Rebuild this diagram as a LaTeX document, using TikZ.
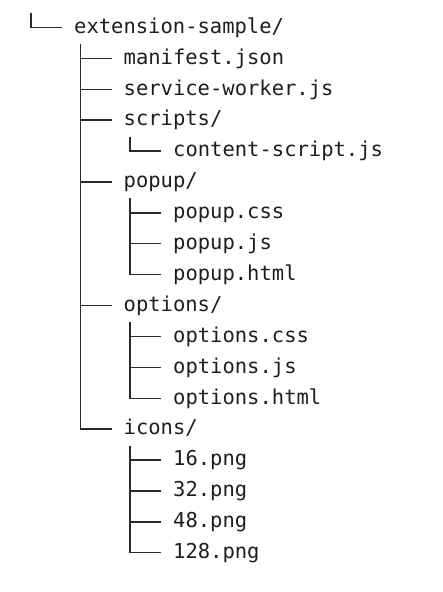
\documentclass[tikz,border=0pt]{standalone}
\usepackage{fontspec}
\newfontfamily\treefont{DejaVu Sans Mono}
\definecolor{ink}{HTML}{1E1E1E}
\definecolor{lineink}{HTML}{2A2A2A}
\begin{document}
\begin{tikzpicture}[x=1pt,y=1pt,
  entry/.style={anchor=west,inner sep=0pt,text height=15.5pt,text depth=4pt,
    text=ink,font=\treefont\fontsize{20.5}{24}\selectfont},
  branch/.style={draw=lineink,line width=1.4pt,line cap=butt}]
\fill[white] (0,0) rectangle (443,592);
\useasboundingbox (0,0) rectangle (443,592);
% level x positions: L0 text 74, L1 text 123.5, L2 text 173
\node[entry] (root) at (74,564.5) {extension-sample/};
\node[entry] (manifest) at (123.5,533.6) {manifest.json};
\node[entry] (sw) at (123.5,502.7) {service-worker.js};
\node[entry] (scripts) at (123.5,471.8) {scripts/};
\node[entry] (cs) at (173,440.9) {content-script.js};
\node[entry] (popup) at (123.5,410.0) {popup/};
\node[entry] (pcss) at (173,379.1) {popup.css};
\node[entry] (pjs) at (173,348.2) {popup.js};
\node[entry] (phtml) at (173,317.3) {popup.html};
\node[entry] (options) at (123.5,286.4) {options/};
\node[entry] (ocss) at (173,255.5) {options.css};
\node[entry] (ojs) at (173,224.6) {options.js};
\node[entry] (ohtml) at (173,193.7) {options.html};
\node[entry] (icons) at (123.5,162.8) {icons/};
\node[entry] (i16) at (173,131.9) {16.png};
\node[entry] (i32) at (173,101.0) {32.png};
\node[entry] (i48) at (173,70.1) {48.png};
\node[entry] (i128) at (173,39.2) {128.png};
\coordinate (top) at (31,579);
\draw[branch] (top) |- ([xshift=-12pt]root.west);
\foreach \p/\c in {root/manifest,root/sw,root/scripts,root/popup,root/options,root/icons,
  scripts/cs,popup/pcss,popup/pjs,popup/phtml,options/ocss,options/ojs,options/ohtml,
  icons/i16,icons/i32,icons/i48,icons/i128}
  \draw[branch] ([xshift=6.5pt,yshift=-6.5pt]\p.south west) |- ([xshift=-12pt]\c.west);
\end{tikzpicture}
\end{document}
